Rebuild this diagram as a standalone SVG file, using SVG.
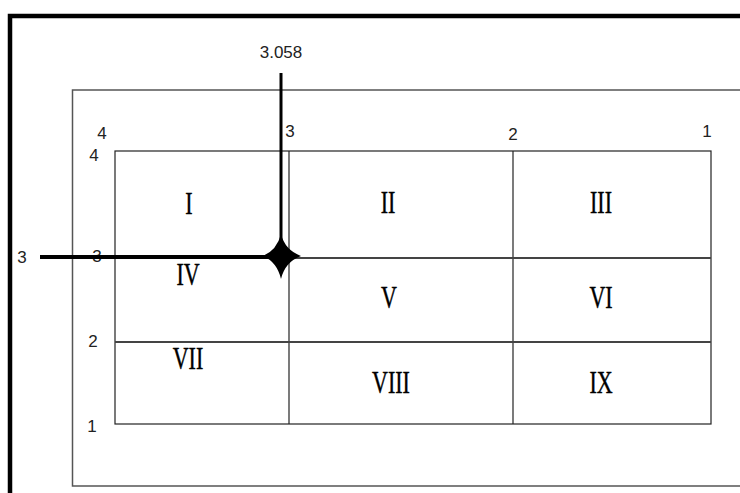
<svg xmlns="http://www.w3.org/2000/svg" width="740" height="493" viewBox="0 0 740 493">
<style>
.num{font-family:"Liberation Sans","Open Sans",sans-serif;font-size:17px;fill:#222;text-anchor:middle}
.rom{font-family:"Liberation Serif","Times New Roman",serif;font-size:22px;fill:#000;stroke:#000;stroke-width:0.3;text-anchor:middle}
.grid{fill:none;stroke:#222;stroke-width:1.2}
.hgrid{stroke:#444;stroke-width:1.8}
.thick{stroke:#000;fill:none}
</style>
<rect width="740" height="493" fill="#fff"/>
<g id="frame">
<path d="M10,493 V16 H740" fill="none" stroke="#000" stroke-width="4.5"/>
<path d="M740,90 H72.5 V486 H740" fill="none" stroke="#555" stroke-width="1.5"/>
</g>
<g id="grid">
<rect x="115" y="151" width="596" height="273" class="grid"/>
<line x1="289" y1="151" x2="289" y2="424" class="grid"/>
<line x1="513" y1="151" x2="513" y2="424" class="grid"/>
<line x1="115" y1="258" x2="711" y2="258" class="hgrid"/>
<line x1="115" y1="342" x2="711" y2="342" class="hgrid"/>
</g>
<g id="cells">
<g id="cell-I" transform="translate(189,214) scale(1,1.4)"><text class="rom">I</text></g>
<g id="cell-II" transform="translate(388,213) scale(1,1.4)"><text class="rom">II</text></g>
<g id="cell-III" transform="translate(601,213) scale(1,1.4)"><text class="rom">III</text></g>
<g id="cell-IV" transform="translate(188,285) scale(1,1.4)"><text class="rom">IV</text></g>
<g id="cell-V" transform="translate(389,308) scale(1,1.4)"><text class="rom">V</text></g>
<g id="cell-VI" transform="translate(601,308) scale(1,1.4)"><text class="rom">VI</text></g>
<g id="cell-VII" transform="translate(188,369) scale(1,1.4)"><text class="rom">VII</text></g>
<g id="cell-VIII" transform="translate(391,393) scale(1,1.4)"><text class="rom">VIII</text></g>
<g id="cell-IX" transform="translate(601,393) scale(1,1.4)"><text class="rom">IX</text></g>
</g>
<g id="labels">
<g transform="translate(0,0) scale(1,1)">
<text class="num" x="281" y="58">3.058</text>
<text class="num" x="102" y="139">4</text>
<text class="num" x="94" y="161">4</text>
<text class="num" x="290" y="137">3</text>
<text class="num" x="513" y="140">2</text>
<text class="num" x="707" y="137">1</text>
<text class="num" x="22" y="263">3</text>
<text class="num" x="97" y="262">3</text>
<text class="num" x="93" y="347">2</text>
<text class="num" x="92" y="432">1</text>
</g>
</g>
<g id="connectors">
<line x1="281" y1="73" x2="281" y2="250" class="thick" stroke-width="3"/>
<line x1="40" y1="257" x2="272" y2="257" class="thick" stroke-width="4"/>
<path id="marker-point" d="M281,234 Q285,250 301,256 Q285,262 281,279 Q277,262 263,256 Q277,250 281,234 Z" fill="#000"/>
</g>
</svg>
